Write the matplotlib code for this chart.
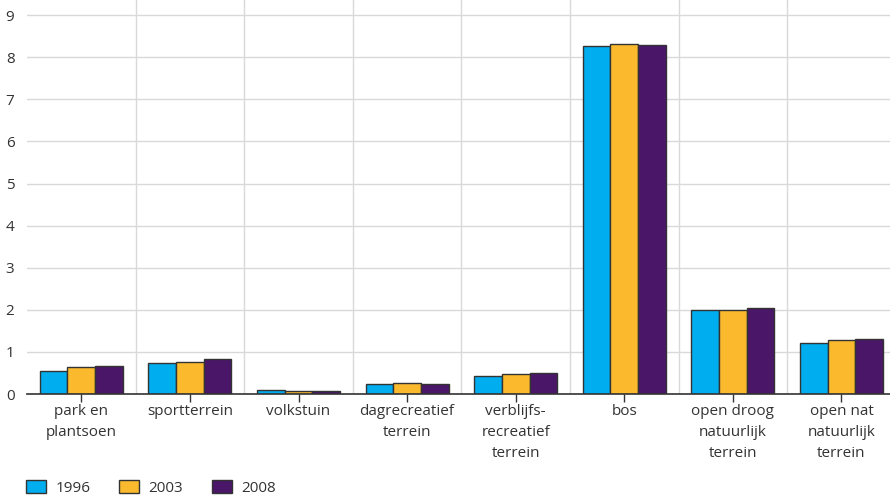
import matplotlib.pyplot as plt
import numpy as np

# data
categories = ["park en\nplantsoen", "sportterrein", "volkstuin", "dagrecreatief\nterrein",
              "verblijfs-\nrecreatief\nterrein", "bos", "open droog\nnatuurlijk\nterrein",
              "open nat\nnatuurlijk\nterrein"]
years = ["1996", "2003", "2008"]
v1996 = [0.55, 0.74, 0.10, 0.245, 0.43, 8.27, 2.00, 1.22]
v2003 = [0.63, 0.77, 0.08, 0.26, 0.47, 8.31, 2.00, 1.28]
v2008 = [0.67, 0.82, 0.08, 0.245, 0.51, 8.29, 2.04, 1.31]
yticks = list(range(0, 10))

colors = ["#00AEEF", "#FBBA2E", "#4A1668"]
text_color = "#333333"

plt.rcParams['font.family'] = ['Open Sans', 'DejaVu Sans']

fig = plt.figure(figsize=(8.9, 4.95), dpi=100)
# axes runs a little past the right edge, like the reference crop
ax = fig.add_axes([27 / 890, 101 / 495, 8 * 108.6 / 890, 394 / 495])

x = np.arange(len(categories))
w = 0.255
series = [v1996, v2003, v2008]
for i, (vals, c, yr) in enumerate(zip(series, colors, years)):
    ax.bar(x + (i - 1) * w, vals, width=w, color=c, edgecolor="#333333",
           linewidth=1.0, label=yr, zorder=3)

ax.set_xlim(-0.5, 7.5)
ax.set_ylim(0, 9.36)
ax.set_yticks(yticks)
ax.set_yticklabels([str(t) for t in yticks], color=text_color, fontsize=11)
ax.tick_params(axis="y", length=0, pad=9)

ax.set_xticks(x)
ax.set_xticklabels(categories, color=text_color, fontsize=11, linespacing=1.55)
ax.tick_params(axis="x", length=6, width=1, color="#333333", pad=1, direction="out")
ax.set_xticks(x[:-1] + 0.5, minor=True)
ax.tick_params(axis="x", which="minor", length=0)

ax.grid(axis="y", color="#D9D9D9", linewidth=1, zorder=0)
ax.grid(axis="x", which="minor", color="#D9D9D9", linewidth=1, zorder=0)
ax.grid(axis="x", which="major", visible=False)

for s in ["top", "right", "left"]:
    ax.spines[s].set_visible(False)
ax.spines["bottom"].set_color("#333333")
ax.spines["bottom"].set_linewidth(1.2)
ax.spines["bottom"].set_zorder(4)

fig.legend(loc="lower left", bbox_to_anchor=(0.014, -0.03), ncol=3, frameon=False,
           fontsize=11, handlelength=1.3, handleheight=0.95, columnspacing=1.9,
           handletextpad=0.6, labelcolor=text_color)

fig.savefig("out.png", dpi=100)
